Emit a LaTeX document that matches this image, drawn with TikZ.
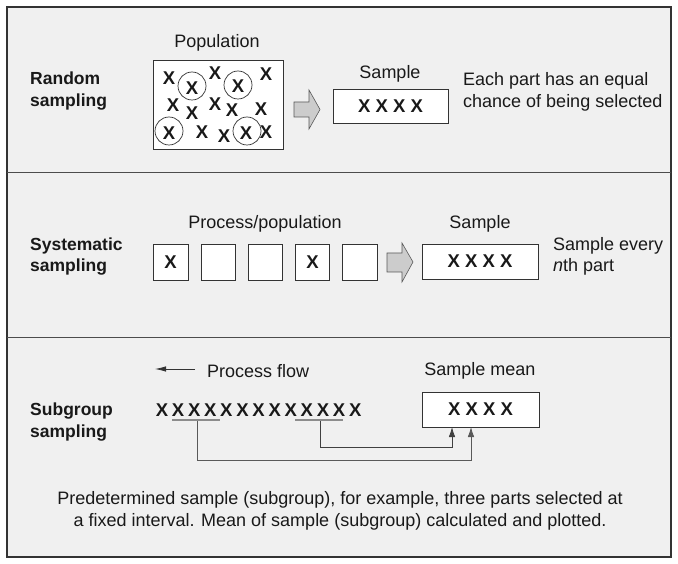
\documentclass[tikz,border=0pt]{standalone}
\usepackage{fontspec}
\setmainfont{Liberation Sans}
\usetikzlibrary{arrows.meta}
\definecolor{panel}{HTML}{F0F0F0}
\definecolor{edge}{HTML}{333333}
\begin{document}
\begin{tikzpicture}[x=1pt,y=-1pt,
  every node/.style={font=\fontsize{18}{21.5}\selectfont, text=black!90},
  lbl/.style={font=\fontsize{17.5}{21.5}\selectfont\bfseries, align=left, anchor=west, inner sep=0, yshift=-2pt},
  note/.style={align=left, anchor=west, inner sep=0, yshift=-2pt},
  captxt/.style={inner sep=0, yshift=-2pt},
  box/.style={draw=edge, fill=white, line width=0.9pt, inner sep=0},
  xx/.style={font=\fontsize{18.5}{18.5}\selectfont\bfseries, inner sep=0},
  ring/.style={draw=edge, circle, minimum size=28pt, inner sep=0, line width=0.7pt},
  blockarrow/.style={fill=black!20, draw=black!65, line width=0.6pt},
  uline/.style={draw=black!45, line width=1.3pt},
  conn/.style={draw=black!65, line width=0.8pt},
  tip/.style={-{Latex[length=10pt,width=6.5pt]}}]
\useasboundingbox (0,0) rectangle (678,564);
% frame and panels
\draw[fill=panel, draw=edge, line width=1.8pt] (7,7) rectangle (671,557);
\draw[draw=black!70, line width=0.9pt] (7,172) -- (671,172);
\draw[draw=black!70, line width=0.9pt] (7,337) -- (671,337);

% ---------- Random sampling ----------
\node[lbl] (lr) at (30,89) {Random\\sampling};
\node[captxt] (popl) at (217,41) {Population};
\node[box, minimum width=130pt, minimum height=89pt] (pop) at (218,104.5) {};
\node[xx] (p1) at (169,78) {X};
\node[xx] (p2) at (192,88) {X};
\node[ring] (r2) at (192,86) {};
\node[xx] (p3) at (215,73) {X};
\node[xx] (p4) at (238,86) {X};
\node[ring] (r4) at (238,85) {};
\node[xx] (p5) at (266,74) {X};
\node[xx] (p6) at (173,105) {X};
\node[xx] (p7) at (192,113) {X};
\node[xx] (p8) at (215,104) {X};
\node[xx] (p9) at (232,110) {X};
\node[xx] (p10) at (261,109) {X};
\node[xx] (p11) at (169,133) {X};
\node[ring] (r11) at (169,131) {};
\node[xx] (p12) at (202,132) {X};
\node[xx] (p13) at (224,136) {X};
\node[xx] (p14) at (246,133) {X};
\node[ring] (r14) at (247,131) {};
\node[xx] (p15) at (266,132) {X};
\draw[blockarrow] (294,102) -- (309,102) -- (309,90) -- (320,109.5) -- (309,129) -- (309,117) -- (294,117) -- cycle;
\node[captxt] (s1l) at (390,72) {Sample};
\node[box, minimum width=115pt, minimum height=34pt] (s1) at (390.5,106) {};
\node[xx] (s1x) at (s1) {X X X X};
\node[note] (n1) at (463,90) {Each part has an equal\\chance of being selected};

% ---------- Systematic sampling ----------
\node[lbl] (ls) at (30,254.5) {Systematic\\sampling};
\node[captxt] (ppl) at (265,222) {Process/population};
\node[box, minimum width=35pt, minimum height=36pt] (b1) at (170.5,262) {};
\node[box, minimum width=34pt, minimum height=36pt] (b2) at (218,262) {};
\node[box, minimum width=34pt, minimum height=36pt] (b3) at (265,262) {};
\node[box, minimum width=34pt, minimum height=36pt] (b4) at (312.5,262) {};
\node[box, minimum width=35pt, minimum height=36pt] (b5) at (359.5,262) {};
\node[xx] (b1x) at (b1) {X};
\node[xx] (b4x) at (b4) {X};
\draw[blockarrow] (387,253) -- (402,253) -- (402,243) -- (413,262) -- (402,282) -- (402,272) -- (387,272) -- cycle;
\node[captxt] (s2l) at (480,222) {Sample};
\node[box, minimum width=116pt, minimum height=35pt] (s2) at (480,261.5) {};
\node[xx] (s2x) at (s2) {X X X X};
\node[note] (n2) at (553,254.5) {Sample every\\\textit{n}th part};

% ---------- Subgroup sampling ----------
\node[lbl] (lg) at (30,420) {Subgroup\\sampling};
\coordinate (fa) at (195,369);
\coordinate (fb) at (155,369);
\draw[conn, -{Latex[length=11pt,width=5.5pt]}, draw=black!80] (fa) -- (fb);
\node[note] (pf) at (207,369) {Process flow};
\node[captxt] (sml) at (480,369) {Sample mean};
\foreach \i in {0,...,12} {
  \node[xx] (g\i) at ({162+16.1*\i},410) {X};
}
\coordinate (u1a) at (172,420);
\coordinate (u1b) at (220,420);
\coordinate (u2a) at (295,420);
\coordinate (u2b) at (343,420);
\draw[uline] (u1a) -- (u1b);
\draw[uline] (u2a) -- (u2b);
\node[box, minimum width=117pt, minimum height=35pt] (sm) at (480.5,409.5) {};
\node[xx] (smx) at (sm) {X X X X};
\coordinate (u1) at (197,421);
\coordinate (u2) at (320,421);
\coordinate (k1) at (471,460);
\coordinate (k2) at (452,447);
\coordinate (t1) at (471,427);
\coordinate (t2) at (452,427);
\draw[conn, tip] (u1) |- (k1) -- (t1);
\draw[conn, tip, draw=black!75] (u2) |- (k2) -- (t2);
\node[captxt, align=center] (bt) at (340,509) {Predetermined sample (subgroup), for example, three parts selected at\\a fixed interval. Mean of sample (subgroup) calculated and plotted.};
\end{tikzpicture}
\end{document}
